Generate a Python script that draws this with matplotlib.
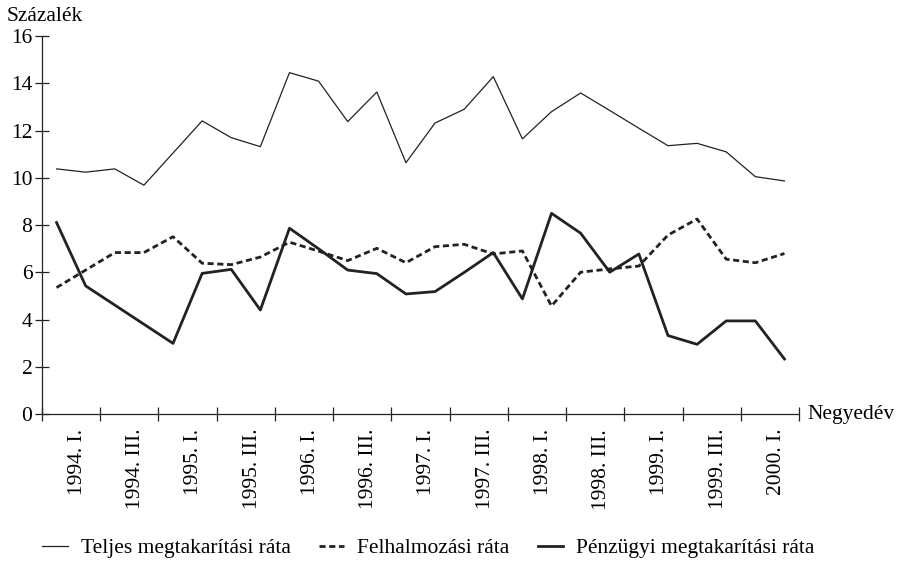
import numpy as np
import matplotlib.pyplot as plt
from matplotlib.lines import Line2D

plt.rcParams["font.family"] = ["Liberation Serif", "DejaVu Serif"]

# negyedévek: 1994 I. - 2000 II.
quarters = [f"{y}. {q}." for y in range(1994, 2001) for q in ["I", "II", "III", "IV"]][:26]

teljes = [10.38, 10.24, 10.38, 9.69, 11.05, 12.41, 11.70, 11.32, 14.45, 14.09,
          12.38, 13.63, 10.64, 12.32, 12.90, 14.28, 11.65, 12.80, 13.59, 12.85,
          12.10, 11.36, 11.46, 11.10, 10.05, 9.87]
felhalmozasi = [5.36, 6.10, 6.84, 6.84, 7.51, 6.39, 6.33, 6.65, 7.28, 6.90,
                6.50, 7.02, 6.41, 7.09, 7.19, 6.78, 6.91, 4.58, 6.01, 6.15,
                6.27, 7.58, 8.26, 6.56, 6.41, 6.80]
penzugyi = [8.11, 5.43, 4.62, 3.81, 3.00, 5.96, 6.13, 4.41, 7.87, 7.00,
            6.10, 5.95, 5.09, 5.19, 6.00, 6.84, 4.88, 8.50, 7.66, 6.01,
            6.78, 3.33, 2.96, 3.95, 3.95, 2.34]

tick_labels = quarters[::2]
legend_labels = ["Teljes megtakarítási ráta", "Felhalmozási ráta",
                 "Pénzügyi megtakarítási ráta"]

FS = 15.5
x = np.arange(len(quarters)) + 0.5

fig = plt.figure(figsize=(8.97, 5.61), dpi=100)
ax = fig.add_axes([42 / 897, 146.7 / 561, 757 / 897, 378.3 / 561])

ax.plot(x, teljes, color="#222222", lw=0.9)
ax.plot(x, felhalmozasi, color="#222222", lw=2.0, linestyle=(0, (2.2, 1.3)))
ax.plot(x, penzugyi, color="#222222", lw=2.0)

ax.set_xlim(0, len(quarters))
ax.set_ylim(0, 16)
ax.set_yticks(np.arange(0, 17, 2))

# fő osztások a határokon, címkék a félévek közepén (kicsit jobbra tolva)
ax.set_xticks(np.arange(0, len(quarters) + 1, 2))
ax.set_xticks(np.arange(1, len(quarters), 2) + 0.22, minor=True)
ax.set_xticklabels([])
ax.set_xticklabels(tick_labels, minor=True, rotation=90, va="top", ha="center")

for s in ["top", "right"]:
    ax.spines[s].set_visible(False)
for s in ["left", "bottom"]:
    ax.spines[s].set_linewidth(0.9)
    ax.spines[s].set_color("#222222")

ax.tick_params(axis="both", which="major", direction="inout", length=10,
               width=0.9, color="#222222", labelsize=FS)
ax.tick_params(axis="y", pad=2)
ax.tick_params(axis="x", which="minor", length=0, pad=10.5, labelsize=FS)

fig.text(7 / 897, 1 - 21 / 561, "Százalék", fontsize=FS, va="baseline", ha="left")
ax.annotate("Negyedév", xy=(1, 0), xycoords="axes fraction", xytext=(6, 0),
            textcoords="offset points", va="center", ha="left", fontsize=FS)

handles = [
    Line2D([], [], color="#222222", lw=0.9),
    Line2D([], [], color="#222222", lw=2.0, linestyle=(0, (2.2, 1.3))),
    Line2D([], [], color="#222222", lw=2.0),
]
fig.legend(handles, legend_labels, loc="center left", ncol=3, frameon=False,
           bbox_to_anchor=(42 / 897, 1 - 548 / 561), borderaxespad=0, borderpad=0,
           handlelength=1.2, handletextpad=0.6, columnspacing=1.3, fontsize=FS)

fig.savefig("out.png", dpi=100)
